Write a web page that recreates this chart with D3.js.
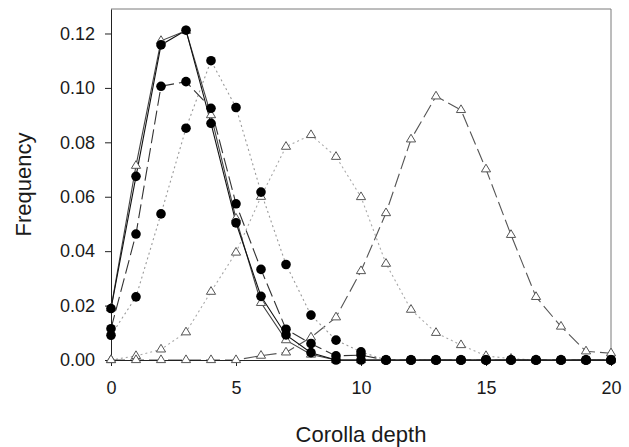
<!DOCTYPE html>
<html>
<head>
<meta charset="utf-8">
<script src="https://cdn.jsdelivr.net/npm/d3@7"></script>
<style>
  body { margin: 0; background: #fff; }
  svg { display: block; font-family: "Liberation Sans", Arial, sans-serif; }
</style>
</head>
<body>
<div id="chart"></div>
<script>
// corolla depth classes
const depth = [0, 1, 2, 3, 4, 5, 6, 7, 8, 9, 10, 11, 12, 13, 14, 15, 16, 17, 18, 19, 20];

// filled circles
const circSolid  = [0.0189, 0.0675, 0.1158, 0.1212, 0.0870, 0.0504, 0.0234, 0.0092, 0.0027, 0, 0, 0, 0, 0, 0, 0, 0, 0, 0, 0, 0];
const circDashed = [0.0115, 0.0463, 0.1006, 0.1023, 0.0925, 0.0574, 0.0333, 0.0113, 0.0060, 0.0015, 0.0018, 0, 0, 0, 0, 0, 0, 0, 0, 0, 0];
const circDotted = [0.0091, 0.0232, 0.0537, 0.0852, 0.1100, 0.0928, 0.0617, 0.0351, 0.0165, 0.0073, 0.0030, 0, 0, 0, 0, 0, 0, 0, 0, 0, 0];

// open triangles
const triSolid  = [0.0190, 0.0714, 0.1173, 0.1210, 0.0900, 0.0520, 0.0210, 0.0073, 0.0020, 0, 0, 0, 0, 0, 0, 0, 0, 0, 0, 0, 0];
const triDotted = [0, 0.0015, 0.0039, 0.0102, 0.0251, 0.0395, 0.0600, 0.0784, 0.0827, 0.0747, 0.0599, 0.0354, 0.0185, 0.0100, 0.0055, 0.0015, 0.0005, 0, 0, 0, 0];
const triDashed = [0, 0, 0, 0, 0, 0, 0.0016, 0.0028, 0.0083, 0.0157, 0.0327, 0.0540, 0.0811, 0.0969, 0.0919, 0.0701, 0.0460, 0.0232, 0.0123, 0.0032, 0.0025];

const xTicks = [0, 5, 10, 15, 20];
const yTicks = [0, 0.02, 0.04, 0.06, 0.08, 0.10, 0.12];

const width = 629;
const height = 447;
const margin = { top: 9, right: 18, bottom: 87, left: 111 };

const svg = d3.select('#chart')
    .append('svg')
    .attr('width', width)
    .attr('height', height);

const x = d3.scaleLinear()
    .domain([0, 20])
    .range([margin.left, width - margin.right]);

const y = d3.scaleLinear()
    .domain([0, 0.129])
    .range([height - margin.bottom, margin.top]);

// frame (top + right in grey)
svg.append('path')
    .attr('d', `M${x(0)},${y(0.129)}H${x(20)}V${y(0)}`)
    .attr('fill', 'none')
    .attr('stroke', '#7a7a7a')
    .attr('stroke-width', 1);

const series = [
    { vals: triDotted,  marker: 'tri',  color: '#a8a8a8', dash: '2,3' },
    { vals: triDashed,  marker: 'tri',  color: '#555',    dash: '14,5' },
    { vals: circDotted, marker: 'circ', color: '#9a9a9a', dash: '2,3' },
    { vals: circDashed, marker: 'circ', color: '#333',    dash: '14,5' },
    { vals: triSolid,   marker: 'tri',  color: '#444',    dash: null },
    { vals: circSolid,  marker: 'circ', color: '#111',    dash: null }
];

const line = d3.line()
    .x((d, i) => x(depth[i]))
    .y(d => y(d));

svg.append('g').classed('lines', true)
    .selectAll('path')
    .data(series)
    .enter()
    .append('path')
    .attr('d', d => line(d.vals))
    .attr('fill', 'none')
    .attr('stroke', d => d.color)
    .attr('stroke-width', 1.1)
    .attr('stroke-dasharray', d => d.dash);

// axes
const xAxis = d3.axisBottom(x)
    .tickValues(xTicks)
    .tickFormat(d3.format('d'))
    .tickSize(6)
    .tickSizeOuter(0)
    .tickPadding(15);

const gx = svg.append('g')
    .classed('x axis', true)
    .attr('transform', `translate(0,${y(0)})`)
    .call(xAxis);

const yAxis = d3.axisLeft(y)
    .tickValues(yTicks)
    .tickFormat(d3.format('.2f'))
    .tickSize(6)
    .tickSizeOuter(0)
    .tickPadding(10);

const gy = svg.append('g')
    .classed('y axis', true)
    .attr('transform', `translate(${x(0)},0)`)
    .call(yAxis);

[gx, gy].forEach(g => {
    g.select('.domain').attr('stroke', '#222');
    g.selectAll('.tick line').attr('stroke', '#222');
    g.selectAll('.tick text')
        .attr('fill', '#1a1a1a')
        .style('font-size', '18px')
        .style('font-family', '"Liberation Sans", Arial, sans-serif');
});

// markers: triangles under circles
const triPath = 'M0,-4.6L4.6,3.1L-4.6,3.1Z';

const pts = [];
series.forEach(s => s.vals.forEach((v, i) => pts.push({ x: depth[i], v: v, marker: s.marker })));

svg.append('g').classed('triangles', true)
    .selectAll('path')
    .data(pts.filter(p => p.marker === 'tri'))
    .enter()
    .append('path')
    .attr('d', triPath)
    .attr('transform', d => `translate(${x(d.x)},${y(d.v) - 0.5})`)
    .attr('fill', '#fff')
    .attr('stroke', '#555')
    .attr('stroke-width', 1);

svg.append('g').classed('circles', true)
    .selectAll('circle')
    .data(pts.filter(p => p.marker === 'circ'))
    .enter()
    .append('circle')
    .attr('cx', d => x(d.x))
    .attr('cy', d => y(d.v))
    .attr('r', 4.8)
    .attr('fill', '#000');

// axis titles
svg.append('text')
    .attr('x', (x(0) + x(20)) / 2)
    .attr('y', 441.5)
    .attr('text-anchor', 'middle')
    .attr('fill', '#1a1a1a')
    .style('font-size', '22px')
    .text('Corolla depth');

svg.append('text')
    .attr('transform', `translate(30.5,${(y(0) + y(0.129)) / 2}) rotate(-90)`)
    .attr('text-anchor', 'middle')
    .attr('fill', '#1a1a1a')
    .style('font-size', '22px')
    .text('Frequency');
</script>
</body>
</html>
